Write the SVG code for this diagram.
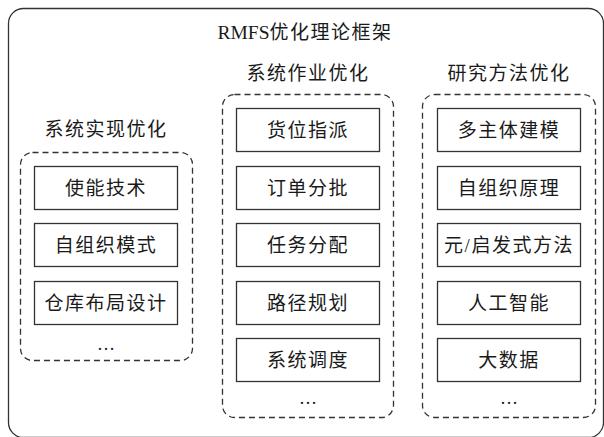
<svg xmlns="http://www.w3.org/2000/svg" width="604" height="437" viewBox="0 0 604 437">
<style>
.t{font-family:"Liberation Serif","Noto Sans CJK SC",serif;font-size:19px;letter-spacing:1.5px;fill:#1a1a1a;text-anchor:middle}
.e{font-family:"Liberation Serif",serif;font-size:18px;fill:#1a1a1a;text-anchor:middle}
.box{fill:#fff;stroke:#333;stroke-width:1.3}
.grp{fill:none;stroke:#333;stroke-width:1.3;stroke-dasharray:6 4}
</style>
<rect width="604" height="437" fill="#fff"/>
<g id="frame">
<rect x="8.5" y="8.5" width="595" height="429" rx="15" fill="none" stroke="#333" stroke-width="1.3"/>
<text class="t" x="305" y="39"><tspan style="letter-spacing:0;font-size:19.5px">RMFS</tspan>优化理论框架</text>
</g>
<g id="g-left">
<text class="t" x="106" y="136">系统实现优化</text>
<rect class="grp" x="20.5" y="152.5" width="172" height="208" rx="12"/>
<text class="e" x="106" y="350">…</text>
</g>
<g id="g-mid">
<text class="t" x="308" y="80">系统作业优化</text>
<rect class="grp" x="222.5" y="94.5" width="171" height="323" rx="12"/>
<text class="e" x="308" y="404">…</text>
</g>
<g id="g-right">
<text class="t" x="509" y="80">研究方法优化</text>
<rect class="grp" x="422.5" y="94.5" width="173" height="323" rx="12"/>
<text class="e" x="509" y="404">…</text>
</g>
<g id="n-l1"><rect class="box" x="34.5" y="166.5" width="143" height="43"/><text class="t" x="106" y="194.5">使能技术</text></g>
<g id="n-l2"><rect class="box" x="34.5" y="223.5" width="143" height="43"/><text class="t" x="106" y="251.5">自组织模式</text></g>
<g id="n-l3"><rect class="box" x="34.5" y="281.5" width="143" height="43"/><text class="t" x="106" y="309.5">仓库布局设计</text></g>
<g id="n-m1"><rect class="box" x="236.5" y="108.5" width="143" height="43"/><text class="t" x="308" y="136.5">货位指派</text></g>
<g id="n-m2"><rect class="box" x="236.5" y="166.5" width="143" height="43"/><text class="t" x="308" y="194.5">订单分批</text></g>
<g id="n-m3"><rect class="box" x="236.5" y="223.5" width="143" height="43"/><text class="t" x="308" y="251.5">任务分配</text></g>
<g id="n-m4"><rect class="box" x="236.5" y="281.5" width="143" height="43"/><text class="t" x="308" y="309.5">路径规划</text></g>
<g id="n-m5"><rect class="box" x="236.5" y="338.5" width="143" height="43"/><text class="t" x="308" y="366.5">系统调度</text></g>
<g id="n-r1"><rect class="box" x="437.5" y="108.5" width="143" height="43"/><text class="t" x="509" y="136.5">多主体建模</text></g>
<g id="n-r2"><rect class="box" x="437.5" y="166.5" width="143" height="43"/><text class="t" x="509" y="194.5">自组织原理</text></g>
<g id="n-r3"><rect class="box" x="437.5" y="223.5" width="143" height="43"/><text class="t" x="509" y="251.5">元/启发式方法</text></g>
<g id="n-r4"><rect class="box" x="437.5" y="281.5" width="143" height="43"/><text class="t" x="509" y="309.5">人工智能</text></g>
<g id="n-r5"><rect class="box" x="437.5" y="338.5" width="143" height="43"/><text class="t" x="509" y="366.5">大数据</text></g>
<g id="connectors"></g>
</svg>
